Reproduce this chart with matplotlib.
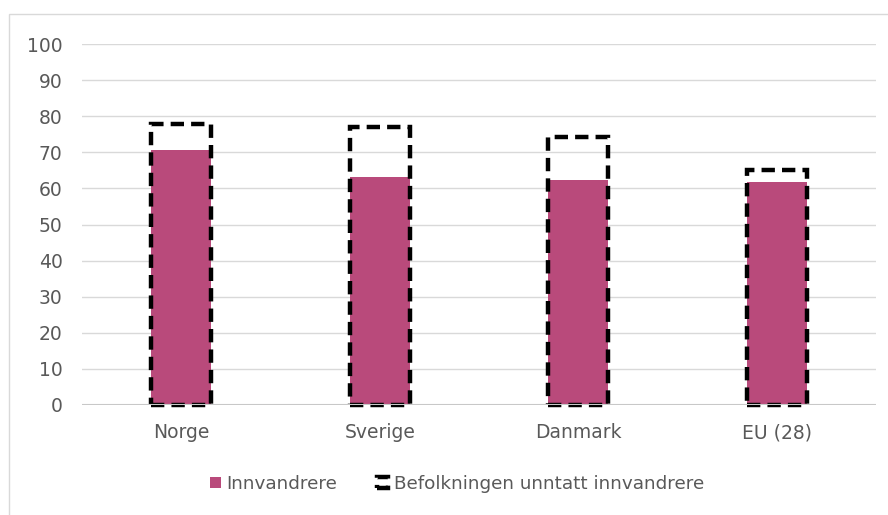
import matplotlib.pyplot as plt
from matplotlib.patches import Rectangle

categories = ["Norge", "Sverige", "Danmark", "EU (28)"]
innvandrere = [70.6, 63.2, 62.3, 61.8]
befolkning = [77.8, 77.0, 74.2, 65.1]

fig = plt.figure(figsize=(8.88, 5.15), dpi=100)
ax = fig.add_axes([82 / 888, 1 - 405 / 515, 794 / 888, 361 / 515])

# outer chart border
fig.patches.append(Rectangle((9 / 888, -0.01), 1.0, 1 - 14 / 515 + 0.01,
                             transform=fig.transFigure, fill=False,
                             edgecolor="#d9d9d9", linewidth=1))

x = range(len(categories))
width = 0.30
ax.bar(x, innvandrere, width=width, color="#b94a7b", zorder=2, label="Innvandrere")
ax.bar(x, befolkning, width=width, fill=False, edgecolor="black", linewidth=3.2,
       linestyle=(0, (3, 1.6)), zorder=3, clip_on=False,
       label="Befolkningen unntatt innvandrere")
ax.axhline(0, color="#c8c8c8", linewidth=1.5, zorder=4)

ax.set_xlim(-0.5, len(categories) - 0.5)
ax.set_ylim(0, 100)
ax.set_yticks(range(0, 101, 10))
ax.set_xticks(list(x))
ax.set_xticklabels(categories)
ax.grid(axis="y", color="#d9d9d9", linewidth=1, zorder=0)
ax.tick_params(length=0, labelsize=13.5, colors="#595959")
ax.tick_params(axis="x", pad=13)
ax.tick_params(axis="y", pad=14)
for s in ax.spines.values():
    s.set_visible(False)

leg = fig.legend(loc="center", bbox_to_anchor=(457 / 888, 1 - 484 / 515), ncol=2,
                 frameon=False, fontsize=13.2, handlelength=0.6, handleheight=0.6,
                 handletextpad=0.3, columnspacing=2.2)
for t in leg.get_texts():
    t.set_color("#595959")

fig.savefig("out.png", dpi=100)
